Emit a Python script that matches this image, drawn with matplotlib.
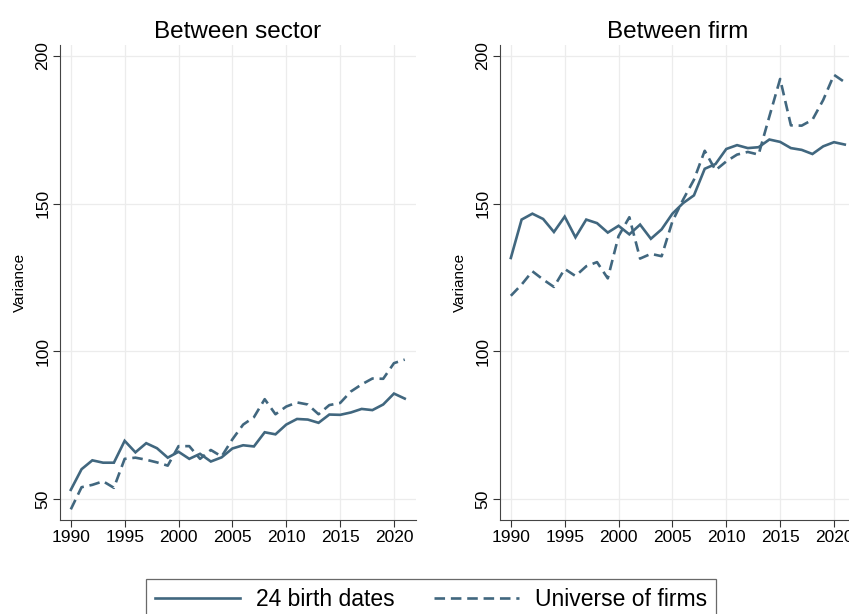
import matplotlib
matplotlib.use("Agg")
import matplotlib.pyplot as plt
from matplotlib.lines import Line2D

plt.rcParams['font.family'] = ['Liberation Sans', 'DejaVu Sans']

years = list(range(1990, 2022))

# Between sector variance
sector_birth = [53.1, 60.1, 63.1, 62.3, 62.3, 69.7, 65.8, 68.9, 67.2, 64.0,
                66.0, 63.6, 65.3, 62.7, 64.1, 67.1, 68.2, 67.8, 72.6, 71.9,
                75.2, 77.1, 76.9, 75.8, 78.6, 78.5, 79.3, 80.5, 80.1, 82.0,
                85.7, 84.0]
sector_universe = [46.5, 54.0, 54.8, 56.0, 53.8, 63.6, 64.0, 63.3, 62.4, 61.3,
                   67.9, 67.9, 63.6, 66.6, 64.4, 70.2, 75.2, 77.7, 83.8, 78.7,
                   81.3, 82.7, 82.0, 78.7, 81.8, 82.5, 86.4, 88.8, 90.8, 90.7,
                   96.0, 97.2]

# Between firm variance
firm_birth = [131.6, 144.6, 146.6, 144.8, 140.4, 145.6, 138.6, 144.6, 143.4, 140.2,
              142.5, 139.6, 142.9, 138.1, 141.3, 146.6, 150.2, 152.8, 161.8, 163.4,
              168.5, 169.8, 168.8, 169.1, 171.7, 170.9, 168.8, 168.2, 166.8, 169.4,
              170.8, 170.0]
firm_universe = [118.8, 122.6, 127.1, 124.3, 121.8, 127.9, 125.5, 128.8, 130.2, 124.7,
                 139.0, 145.4, 131.4, 133.0, 132.2, 144.0, 151.4, 158.1, 167.9, 161.3,
                 164.3, 166.6, 167.5, 166.6, 179.5, 192.2, 176.5, 176.4, 178.4, 185.1,
                 193.6, 191.1]

titles = ["Between sector", "Between firm"]
labels = ["24 birth dates", "Universe of firms"]
xticks = [1990, 1995, 2000, 2005, 2010, 2015, 2020]
yticks = [50, 100, 150, 200]

color = "#41677f"
lw = 1.9

fig = plt.figure(figsize=(8.49, 6.14), dpi=100)
ax1 = fig.add_axes([0.0707, 0.1531, 0.4187, 0.7736])
ax2 = fig.add_axes([0.589, 0.1531, 0.4187, 0.7736])

panels = [(ax1, sector_birth, sector_universe), (ax2, firm_birth, firm_universe)]
for (ax, solid, dashed), title in zip(panels, titles):
    ax.plot(years, solid, color=color, lw=lw, solid_joinstyle='miter')
    ax.plot(years, dashed, color=color, lw=lw, dashes=(4, 2.2))
    ax.set_xlim(1989, 2022)
    ax.set_ylim(42.9, 203.7)
    ax.set_xticks(xticks)
    ax.set_yticks(yticks)
    ax.tick_params(axis='y', labelrotation=90, labelsize=12.5, length=5,
                   width=0.8, color='#333333', pad=2)
    ax.tick_params(axis='x', labelsize=12.5, length=5, width=0.8,
                   color='#333333', pad=2)
    for lab in ax.get_yticklabels():
        lab.set_va('center')
    ax.grid(True, color='#ececec', lw=0.9)
    ax.set_axisbelow(True)
    ax.spines['top'].set_visible(False)
    ax.spines['right'].set_visible(False)
    ax.spines['left'].set_color('#444444')
    ax.spines['bottom'].set_color('#444444')
    ax.set_ylabel("Variance", fontsize=11, labelpad=6)
    ax.set_title(title, fontsize=17.5, pad=5)

handles = [Line2D([], [], color=color, lw=lw),
           Line2D([], [], color=color, lw=lw, dashes=(4, 2.2))]
leg = fig.legend(handles, labels, loc='upper center', bbox_to_anchor=(0.5077, 0.057),
                 ncol=2, fontsize=16.5, frameon=True, fancybox=False,
                 edgecolor='#444444', handlelength=3.7, handletextpad=0.7,
                 columnspacing=1.7, borderaxespad=0, borderpad=0.4)
leg.get_frame().set_linewidth(0.9)

fig.savefig("out.png", dpi=100)
